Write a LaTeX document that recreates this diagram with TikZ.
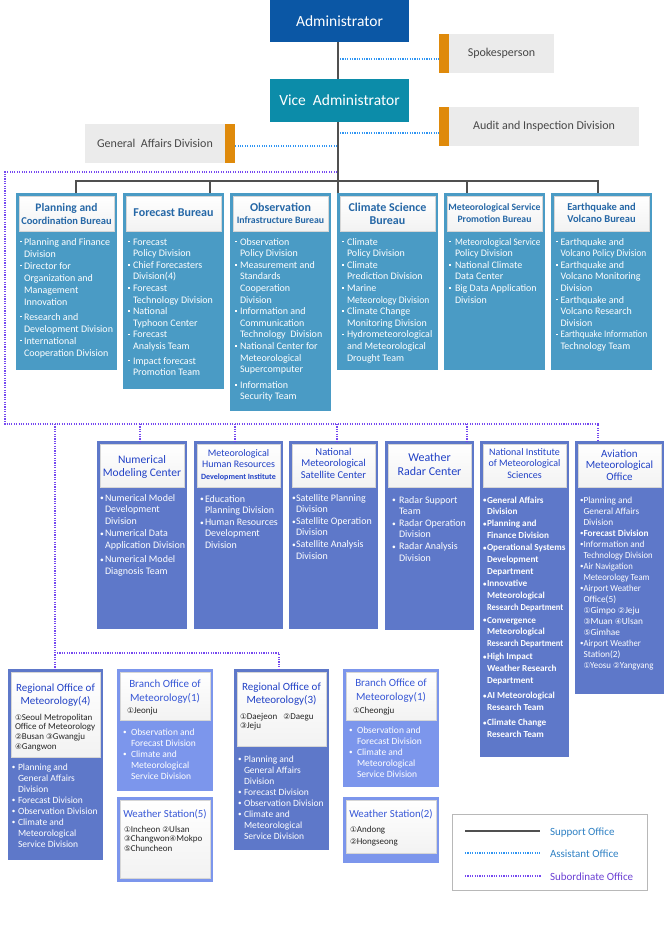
\documentclass[tikz,border=0pt]{standalone}
\usepackage{fontspec}
\usepackage{graphicx}
\setmainfont{Carlito}
\newfontfamily\djv{DejaVu Sans}
\usetikzlibrary{calc}
\definecolor{admblue}{HTML}{0B57A5}
\definecolor{viceteal}{HTML}{0C8CA9}
\definecolor{gbox}{HTML}{EBEBEB}
\definecolor{orng}{HTML}{DF8A0B}
\definecolor{rone}{HTML}{4A9BC5}
\definecolor{rtwo}{HTML}{5E78C9}
\definecolor{rthree}{HTML}{7C96EC}
\definecolor{hone}{HTML}{2567A6}
\definecolor{htwo}{HTML}{2141C6}
\definecolor{hthree}{HTML}{3757D6}
\definecolor{lgray}{HTML}{505050}
\definecolor{asst}{HTML}{2F95F2}
\definecolor{subo}{HTML}{7548F0}
\definecolor{tgray}{HTML}{474747}
\definecolor{legb}{HTML}{2E80C3}
\definecolor{legp}{HTML}{6B40D3}
\newlength\bw
\setlength\bw{5pt}
\newcommand\bsq{\makebox[\bw][l]{\raisebox{2.6pt}{\rule{1.7pt}{1.7pt}}}}
\newcommand\brd{\makebox[\bw][l]{\raisebox{0.2pt}{\scalebox{0.75}{\textbullet}}}}
\newcommand\circn[1]{{\djv\scalebox{0.85}{\ifcase#1\or ①\or ②\or ③\or ④\or ⑤\fi}}}
\newcommand\tabl[2]{\begin{tabular}[t]{@{}#1@{}}#2\end{tabular}}
\newcommand\tabb[1]{\begin{tabular}[t]{@{}l@{}l@{}}#1\end{tabular}}
\newcommand\nrw[2][0.9]{\scalebox{#1}[1]{#2}}
\tikzset{
 every node/.style={inner sep=0pt, outer sep=0pt},
 boxnw/.style={anchor=north west, rectangle},
 topbox/.style={boxnw, text=white, font=\fontsize{15.5}{18}\selectfont},
 graybox/.style={boxnw, fill=gbox, text=tgray, font=\fontsize{12}{14}\selectfont},
 orbar/.style={boxnw, fill=orng},
 r1box/.style={boxnw, fill=rone},
 r2box/.style={boxnw, fill=rtwo},
 r3box/.style={boxnw, fill=rthree},
 hdrbox/.style={boxnw, top color=white, bottom color=black!5, draw=black!16, line width=0.7pt},
 h1txt/.style={anchor=base, text=hone, font=\bfseries\fontsize{11.5}{13}\selectfont},
 h2txt/.style={anchor=base, text=htwo, font=\fontsize{11.5}{13}\selectfont},
 h3txt/.style={anchor=base, text=hthree, font=\fontsize{11}{13.5}\selectfont},
 blktxt/.style={anchor=base west, text=black!85, font=\fontsize{9}{9.8}\selectfont},
 bodytxt/.style={anchor=base west, text=white, font=\fontsize{10}{11.6}\selectfont},
 support/.style={draw=lgray, line width=2.2pt, line join=miter},
 assist/.style={draw=asst, line width=1.1pt, dash pattern=on 1.1pt off 1.3pt},
 subord/.style={draw=subo, line width=1.1pt, dash pattern=on 1.1pt off 1.3pt},
 legtxt/.style={anchor=base west, font=\fontsize{11}{13}\selectfont},
}
\begin{document}
\begin{tikzpicture}[x=1pt,y=-1pt]
\useasboundingbox (0,0) rectangle (664,945);

% ---------- top ----------
\node[topbox, fill=admblue, minimum width=139pt, minimum height=42pt] (adm) at (270,0) {Administrator};
\node[topbox, fill=viceteal, minimum width=139pt, minimum height=43pt] (vice) at (270,79) {Vice\ \ Administrator};
\node[orbar, minimum width=10pt, minimum height=39pt] (spkbar) at (439,34) {};
\node[graybox, minimum width=105pt, minimum height=39pt] (spk) at (449,34) {Spokesperson};
\node[orbar, minimum width=10pt, minimum height=39pt] (audbar) at (439,107) {};
\node[graybox, minimum width=190pt, minimum height=39pt] (aud) at (449,107) {Audit and Inspection Division};
\node[graybox, minimum width=140pt, minimum height=39pt] (gad) at (85,124) {General\ \ Affairs Division};
\node[orbar, minimum width=10pt, minimum height=39pt] (gadbar) at (225,124) {};

% ---------- row 1 ----------
\node[r1box, minimum width=101pt, minimum height=177pt] (plan) at (16,193) {};
\node[hdrbox, minimum width=95pt, minimum height=35pt] (planh) at (19,196) {};
\node[h1txt] (planht) at (66.5,211) {\tabl{c}{Planning and\\{\fontsize{10.5}{13}\selectfont Coordination Bureau}}};
\node[bodytxt, font=\fontsize{10}{12}\selectfont] (planb) at (20,245) {\setlength\bw{4pt}\tabb{
\bsq & Planning and Finance\\ & Division\\
\bsq & Director for\\ & Organization and\\ & Management\\ & Innovation\\[3pt]
\bsq & Research and\\ & Development Division\\
\bsq & International\\ & Cooperation Division}};

\node[r1box, minimum width=101pt, minimum height=196pt] (fcst) at (123,193) {};
\node[hdrbox, minimum width=95pt, minimum height=35pt] (fcsth) at (126,196) {};
\node[h1txt, font=\bfseries\fontsize{12}{13}\selectfont] (fcstht) at (173.5,216) {Forecast Bureau};
\node[bodytxt] (fcstb) at (128,245) {\tabb{
\bsq & Forecast\\ & Policy Division\\
\bsq & Chief Forecasters\\ & Division(4)\\
\bsq & Forecast\\ & Technology Division\\
\bsq & National\\ & Typhoon Center\\
\bsq & Forecast\\ & Analysis Team\\[3pt]
\bsq & Impact forecast\\ & Promotion Team}};

\node[r1box, minimum width=101pt, minimum height=218pt] (obs) at (230,193) {};
\node[hdrbox, minimum width=95pt, minimum height=35pt] (obsh) at (233,196) {};
\node[h1txt, font=\bfseries\fontsize{12}{12}\selectfont] (obsht) at (280.5,211) {\tabl{c}{Observation\\{\fontsize{9.8}{12}\selectfont Infrastructure Bureau}}};
\node[bodytxt] (obsb) at (235,245) {\tabb{
\bsq & Observation\\ & Policy Division\\
\bsq & Measurement and\\ & Standards\\ & Cooperation\\ & Division\\
\bsq & Information and\\ & Communication\\ & Technology\ \ Division\\
\bsq & National Center for\\ & Meteorological\\ & Supercomputer\\[4pt]
\bsq & Information\\ & Security Team}};

\node[r1box, minimum width=101pt, minimum height=177pt] (clim) at (337,193) {};
\node[hdrbox, minimum width=95pt, minimum height=35pt] (climh) at (340,196) {};
\node[h1txt, font=\bfseries\fontsize{12}{13}\selectfont] (climht) at (387.5,211) {\tabl{c}{Climate Science\\Bureau}};
\node[bodytxt] (climb) at (342,245) {\tabb{
\bsq & Climate\\ & Policy Division\\
\bsq & Climate\\ & Prediction Division\\
\bsq & Marine\\ & \nrw[0.95]{Meteorology Division}\\
\bsq & Climate Change\\ & Monitoring Division\\
\bsq & Hydrometeorological\\ & and Meteorological\\ & Drought Team}};

\node[r1box, minimum width=101pt, minimum height=177pt] (msp) at (444,193) {};
\node[hdrbox, minimum width=95pt, minimum height=35pt] (msph) at (447,196) {};
\node[h1txt, font=\bfseries\fontsize{9.7}{12}\selectfont] (mspht) at (494.5,210) {\tabl{c}{Meteorological Service\\Promotion Bureau}};
\node[bodytxt] (mspb) at (449,245) {\setlength\bw{6pt}\tabb{
\bsq & \nrw[0.92]{Meteorological Service}\\ & Policy Division\\
\bsq & National Climate\\ & Data Center\\
\bsq & Big Data Application\\ & Division}};

\node[r1box, minimum width=101pt, minimum height=177pt] (quake) at (551,193) {};
\node[hdrbox, minimum width=95pt, minimum height=35pt] (quakeh) at (554,196) {};
\node[h1txt, font=\bfseries\fontsize{10.5}{12}\selectfont] (quakeht) at (601.5,210) {\tabl{c}{Earthquake and\\Volcano\ Bureau}};
\node[bodytxt] (quakeb) at (556,245) {\setlength\bw{4.5pt}\tabb{
\bsq & Earthquake and\\ & \nrw[0.93]{Volcano Policy Division}\\
\bsq & Earthquake and\\ & Volcano Monitoring\\ & Division\\
\bsq & Earthquake and\\ & Volcano Research\\ & Division\\
\bsq & \nrw[0.9]{Earthquake Information}\\ & Technology Team}};

% ---------- row 2 ----------
\node[r2box, minimum width=90pt, minimum height=188pt] (numc) at (97,441) {};
\node[hdrbox, minimum width=84pt, minimum height=43pt] (numch) at (100,444) {};
\node[h2txt] (numcht) at (142,463) {\tabl{c}{Numerical\\Modeling Center}};
\node[bodytxt] (numcb) at (100,501) {\tabb{
\brd & Numerical Model\\ & Development\\ & Division\\[1pt]
\brd & Numerical Data\\ & Application Division\\[2.5pt]
\brd & Numerical Model\\ & Diagnosis Team}};

\node[r2box, minimum width=89pt, minimum height=188pt] (hrd) at (194,441) {};
\node[hdrbox, minimum width=83pt, minimum height=43pt] (hrdh) at (197,444) {};
\node[h2txt, font=\fontsize{10}{11.5}\selectfont] (hrdht) at (238.5,456) {\tabl{c}{Meteorological\\Human Resources\\{\bfseries\fontsize{8}{11.5}\selectfont Development Institute}}};
\node[bodytxt] (hrdb) at (200,502) {\tabb{
\brd & Education\\ & Planning Division\\
\brd & Human Resources\\ & Development\\ & Division}};

\node[r2box, minimum width=89pt, minimum height=188pt] (sat) at (289,441) {};
\node[hdrbox, minimum width=83pt, minimum height=43pt] (sath) at (292,444) {};
\node[h2txt, font=\fontsize{10.5}{11.7}\selectfont] (satht) at (333.5,455) {\tabl{c}{National\\Meteorological\\Satellite Center}};
\node[bodytxt] (satb) at (292,501) {\setlength\bw{4pt}\tabb{
\brd & Satellite Planning\\ & Division\\
\brd & Satellite Operation\\ & Division\\
\brd & Satellite Analysis\\ & Division}};

\node[r2box, minimum width=89pt, minimum height=189pt] (radar) at (385,441) {};
\node[hdrbox, minimum width=83pt, minimum height=43pt] (radarh) at (388,444) {};
\node[h2txt, font=\fontsize{12}{14}\selectfont] (radarht) at (429.5,461) {\tabl{c}{Weather\\Radar Center}};
\node[bodytxt] (radarb) at (392,503) {\setlength\bw{7pt}\tabb{
\brd & Radar Support\\ & Team\\
\brd & Radar Operation\\ & Division\\
\brd & Radar Analysis\\ & Division}};

\node[r2box, minimum width=89pt, minimum height=316pt] (nims) at (480,441) {};
\node[hdrbox, minimum width=83pt, minimum height=43pt] (nimsh) at (483,444) {};
\node[h2txt, font=\fontsize{10}{11.5}\selectfont] (nimsht) at (524.5,455) {\tabl{c}{National Institute\\of Meteorological\\Sciences}};
\node[bodytxt, font=\bfseries\fontsize{9.2}{11.9}\selectfont] (nimsb) at (483,503) {\setlength\bw{4pt}\tabb{
\brd & General Affairs\\ & Division\\
\brd & Planning and\\ & Finance Division\\
\brd & Operational Systems\\ & Development\\ & Department\\
\brd & Innovative\\ & Meteorological\\ & \nrw[0.92]{Research Department}\\[1pt]
\brd & Convergence\\ & Meteorological\\ & \nrw[0.92]{Research Department}\\[1pt]
\brd & High Impact\\ & Weather Research\\ & Department\\[3pt]
\brd & AI Meteorological\\ & Research Team\\[3pt]
\brd & Climate Change\\ & Research Team}};

\node[r2box, minimum width=89pt, minimum height=253pt] (avi) at (575,441) {};
\node[hdrbox, minimum width=83pt, minimum height=43pt] (avih) at (578,444) {};
\node[h2txt, font=\fontsize{11}{11.5}\selectfont] (aviht) at (619.5,457) {\tabl{c}{Aviation\\Meteorological\\Office}};
\node[bodytxt, font=\fontsize{9.3}{11}\selectfont] (avib) at (580,503) {\setlength\bw{3.5pt}\tabb{
\brd & Planning and\\ & General Affairs\\ & Division\\
\brd & {\bfseries Forecast Division}\\
\brd & Information and\\ & \nrw[0.93]{Technology Division}\\
\brd & \nrw[0.93]{Air Navigation}\\ & \nrw[0.93]{Meteorology Team}\\
\brd & \nrw[0.93]{Airport Weather}\\ & Office(5)\\ & \circn1Gimpo \circn2Jeju\\ & \circn3Muan \circn4Ulsan\\ & \circn5Gimhae\\
\brd & \nrw[0.93]{Airport Weather}\\ & Station(2)\\ & \nrw[0.95]{\circn1Yeosu \circn2Yangyang}}};

% ---------- row 3 ----------
\node[r2box, minimum width=95pt, minimum height=191pt] (reg4) at (8,669) {};
\node[hdrbox, minimum width=89pt, minimum height=85pt] (reg4h) at (11,672) {};
\node[h3txt, text=htwo] (reg4ht) at (55.5,691) {\tabl{c}{Regional Office of\\Meteorology(4)}};
\node[blktxt] (reg4k) at (15,720) {\tabl{l}{\circn1Seoul Metropolitan\\Office of Meteorology\\\circn2Busan \circn3Gwangju\\\circn4Gangwon}};
\node[bodytxt, font=\fontsize{9.5}{11}\selectfont] (reg4b) at (12,770) {\setlength\bw{6pt}\tabb{
\brd & Planning and\\ & General Affairs\\ & Division\\
\brd & Forecast Division\\
\brd & Observation Division\\
\brd & Climate and\\ & Meteorological\\ & Service Division}};

\node[r3box, minimum width=96pt, minimum height=122pt] (br1) at (117,669) {};
\node[hdrbox, minimum width=90pt, minimum height=48pt] (br1h) at (120,672) {};
\node[h3txt, font=\fontsize{11}{14}\selectfont] (br1ht) at (165,687) {\tabl{c}{Branch Office of\\Meteorology(1)}};
\node[blktxt] (br1k) at (127,713) {\circn1Jeonju};
\node[bodytxt, font=\fontsize{9.5}{11}\selectfont] (br1b) at (123,735) {\setlength\bw{8pt}\tabb{
\brd & Observation and\\ & Forecast Division\\
\brd & Climate and\\ & Meteorological\\ & Service Division}};

\node[r3box, minimum width=96pt, minimum height=85pt] (ws5) at (117,797) {};
\node[hdrbox, minimum width=90pt, minimum height=78pt] (ws5h) at (120,800) {};
\node[h3txt, font=\fontsize{10.8}{13}\selectfont] (ws5ht) at (165,817) {Weather Station(5)};
\node[blktxt] (ws5k) at (124,832) {\tabl{l}{\circn1Incheon \circn2Ulsan\\\circn3Changwon\circn4Mokpo\\\circn5Chuncheon}};

\node[r2box, minimum width=95pt, minimum height=181pt] (reg3) at (234,669) {};
\node[hdrbox, minimum width=89pt, minimum height=74pt] (reg3h) at (237,672) {};
\node[h3txt, text=htwo] (reg3ht) at (281.5,690) {\tabl{c}{Regional Office of\\Meteorology(3)}};
\node[blktxt] (reg3k) at (240,719) {\tabl{l}{\circn1Daejeon\ \ \ \circn2Daegu\\\circn3Jeju}};
\node[bodytxt, font=\fontsize{9.5}{11}\selectfont] (reg3b) at (238,762) {\setlength\bw{6pt}\tabb{
\brd & Planning and\\ & General Affairs\\ & Division\\
\brd & Forecast Division\\
\brd & Observation Division\\
\brd & Climate and\\ & Meteorological\\ & Service Division}};

\node[r3box, minimum width=96pt, minimum height=118pt] (br2) at (343,669) {};
\node[hdrbox, minimum width=90pt, minimum height=48pt] (br2h) at (346,672) {};
\node[h3txt, font=\fontsize{11}{14}\selectfont] (br2ht) at (391,686) {\tabl{c}{Branch Office of\\Meteorology(1)}};
\node[blktxt] (br2k) at (353,713) {\circn1Cheongju};
\node[bodytxt, font=\fontsize{9.5}{11}\selectfont] (br2b) at (349,733) {\setlength\bw{8pt}\tabb{
\brd & Observation and\\ & Forecast Division\\
\brd & Climate and\\ & Meteorological\\ & Service Division}};

\node[r3box, minimum width=96pt, minimum height=66pt] (ws2) at (343,797) {};
\node[hdrbox, minimum width=90pt, minimum height=53pt] (ws2h) at (346,800) {};
\node[h3txt, font=\fontsize{10.8}{13}\selectfont] (ws2ht) at (391,817) {Weather Station(2)};
\node[blktxt, font=\fontsize{9}{12}\selectfont] (ws2k) at (350,832) {\tabl{l}{\circn1Andong\\\circn2Hongseong}};

% ---------- legend ----------
\node[boxnw, draw=black!28, line width=0.8pt, minimum width=195pt, minimum height=76pt] (leg) at (452,814) {};
\coordinate (l1a) at (465,831); \coordinate (l1b) at (540,831);
\coordinate (l2a) at (465,853); \coordinate (l2b) at (540,853);
\coordinate (l3a) at (465,876); \coordinate (l3b) at (541,876);
\draw[support, line width=2pt] (l1a) -- (l1b);
\draw[assist] (l2a) -- (l2b);
\draw[subord] (l3a) -- (l3b);
\node[legtxt, text=legb] (l1t) at (550,835) {Support Office};
\node[legtxt, text=legb] (l2t) at (550,857) {Assistant Office};
\node[legtxt, text=legp] (l3t) at (550,880) {Subordinate Office};

% ---------- connectors ----------
\coordinate (cx) at (338,0);
\draw[support] (adm.south -| cx) -- (vice.north -| cx);
\draw[support] (vice.south -| cx) -- (clim.north -| cx);
\coordinate (a1) at (340,59);
\draw[assist] (a1) -- (a1 -| spkbar.west);
\coordinate (a2) at (340,133);
\draw[assist] (a2) -- (a2 -| audbar.west);
\coordinate (a3) at (337,146);
\draw[assist] (a3) -- (a3 -| gadbar.east);

\coordinate (j1) at (76,181);
\coordinate (j2) at (210,181);
\coordinate (j5) at (467,181);
\coordinate (j6) at (598,181);
\draw[support] (j1 |- plan.north) -- (j1) -- (j6) -- (j6 |- quake.north);
\draw[support] (j2) -- (j2 |- fcst.north);
\draw[support] (j5) -- (j5 |- msp.north);

\coordinate (s0) at (337,172);
\coordinate (s1) at (5,172);
\coordinate (s2) at (5,424);
\coordinate (s3) at (598,424);
\draw[subord] (s0) -- (s1) -- (s2) -- (s3) -- (s3 |- avi.north);
\coordinate (t1) at (140,424); \draw[subord] (t1) -- (t1 |- numc.north);
\coordinate (t2) at (235,424); \draw[subord] (t2) -- (t2 |- hrd.north);
\coordinate (t3) at (337,424); \draw[subord] (t3) -- (t3 |- sat.north);
\coordinate (t4) at (467,424); \draw[subord] (t4) -- (t4 |- radar.north);
\coordinate (r0) at (55,424); \draw[subord] (r0) -- (r0 |- reg4.north);
\coordinate (r1) at (57,653);
\coordinate (r2) at (279,653);
\draw[subord] (r1) -- (r2) -- (r2 |- reg3.north);
\end{tikzpicture}
\end{document}
